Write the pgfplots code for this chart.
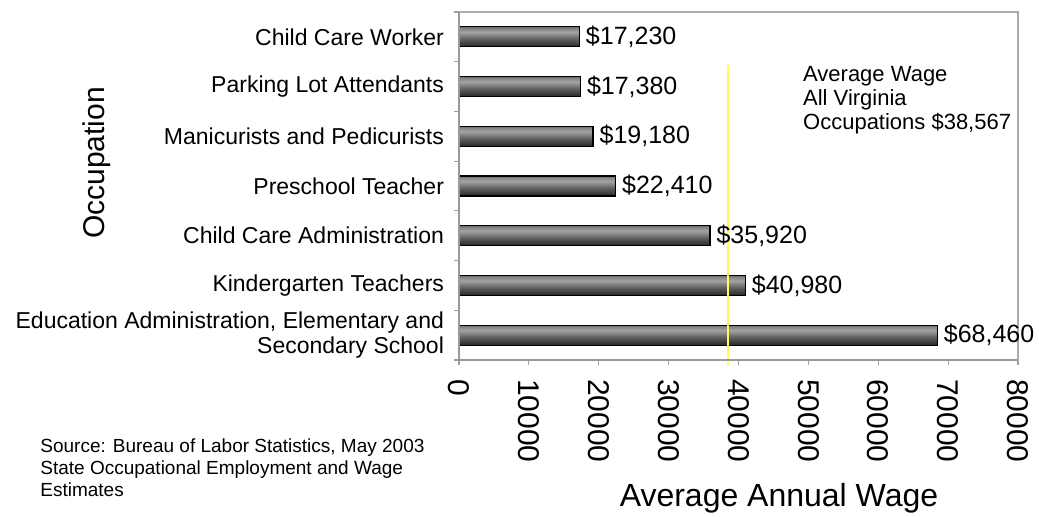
\documentclass[border=0pt]{standalone}
\usepackage{fontspec}
\setmainfont{Liberation Sans}
\usepackage{pgfplots}
\pgfplotsset{compat=1.18}

% cylinder-like grey bars: dark at bottom, light band near the top
\pgfdeclareverticalshading{barshade}{100bp}{color(0bp)=(black!85); color(25bp)=(black!85); color(45bp)=(black!62); color(62bp)=(black!36); color(71bp)=(black!48); color(75bp)=(black!58); color(100bp)=(black!58)}
\definecolor{avgline}{RGB}{255,250,90}
\pgfplotsset{onebar/.style={xbar, bar shift=0pt, draw=black, line width=0.6pt, shade, shading=barshade}}

\begin{document}
\begin{tikzpicture}
\begin{axis}[
  at={(0,0)}, anchor=south west,
  width=279.5pt, height=174pt, scale only axis,
  bar width=10pt,
  xmin=0, xmax=80000, ymin=-0.5, ymax=6.5,
  xtick={0,10000,...,80000},
  scaled x ticks=false,
  /pgf/number format/assume math mode=true,
  xticklabel style={rotate=-90, anchor=west, font=\fontsize{15}{15}\selectfont,
    /pgf/number format/1000 sep={}},
  xticklabel shift=3.5pt,
  ytick={-0.5,0.5,...,6.5}, yticklabels={},
  extra y ticks={0,1,2,3,4,5,6},
  extra y tick labels={{Education Administration, Elementary and\\Secondary School},
    {Kindergarten Teachers}, {Child Care Administration}, {Preschool Teacher},
    {Manicurists and Pedicurists}, {Parking Lot Attendants}, {Child Care Worker}},
  extra y tick style={major tick length=0pt,
    yticklabel style={align=right, font=\fontsize{11.5}{12.5}\selectfont, xshift=-4pt}},
  tick pos=left,
  tick align=outside, major tick length=2.5pt,
  tick style={gray!75, line width=0.6pt},
  axis line style={gray!65, line width=0.8pt},
  clip=false,
  every node near coord/.append style={anchor=west, font=\fontsize{12.5}{12.5}\selectfont, black, inner sep=3pt},
]
\addplot[onebar, nodes near coords={\$68,460}] coordinates {(68460,0)};
\addplot[onebar, nodes near coords={\$40,980}] coordinates {(40980,1)};
\addplot[onebar, nodes near coords={\$35,920}] coordinates {(35920,2)};
\addplot[onebar, nodes near coords={\$22,410}] coordinates {(22410,3)};
\addplot[onebar, nodes near coords={\$19,180}] coordinates {(19180,4)};
\addplot[onebar, nodes near coords={\$17,380}] coordinates {(17380,5)};
\addplot[onebar, nodes near coords={\$17,230}] coordinates {(17230,6)};
\addplot[avgline, line width=1pt, sharp plot, no marks]
  coordinates {(38567,-0.6) (38567,5.43)};
\draw[gray!65, line width=0.8pt] (rel axis cs:0,1) -- (rel axis cs:1,1) -- (rel axis cs:1,0);
\draw[gray!80, line width=0.8pt] (rel axis cs:0,1) -- (rel axis cs:0,0) -- (rel axis cs:1,0);
\node[anchor=north west, align=left, inner sep=0pt, font=\fontsize{11}{12}\selectfont]
  at (axis cs:49200,5.42) {Average Wage\\All Virginia\\Occupations \$38,567};
\end{axis}
\node[rotate=90, font=\fontsize{15}{15}\selectfont] at (-181pt,98.5pt) {Occupation};
\node[font=\fontsize{16}{16}\selectfont, anchor=base] at (160pt,-73.5pt) {Average Annual Wage};
\node[anchor=north west, align=left, inner sep=0pt, font=\fontsize{9.5}{11}\selectfont]
  at (-209.5pt,-39pt) {Source: Bureau of Labor Statistics, May 2003\\State Occupational Employment and Wage\\Estimates};
\pgfresetboundingbox
\path (-229.5pt,-78.5pt) rectangle (290pt,180pt);
\end{tikzpicture}
\end{document}
